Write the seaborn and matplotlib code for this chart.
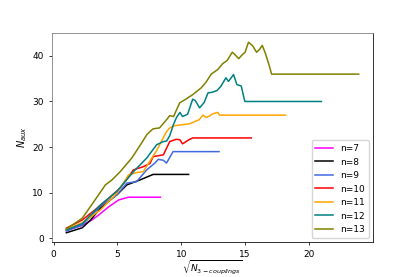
import numpy as np
import pandas as pd
import matplotlib
matplotlib.use("Agg")
import matplotlib.pyplot as plt
import seaborn as sns

# ---- data ----
labels = ["n=7", "n=8", "n=9", "n=10", "n=11", "n=12", "n=13"]
colors = ["#ff00ff", "#000000", "#4169e1", "#ff0000", "#ffa500", "#008080", "#808000"]

x7 = [1, 2.24, 3.0, 3.54, 4.32, 5.1, 5.74, 5.9, 8.37]
y7 = [1.7, 2.8, 4.0, 5.1, 6.9, 8.4, 8.9, 9.0, 9.0]

x8 = [1, 2.25, 2.9, 3.67, 4.45, 5.1, 5.74, 6.78, 7.8, 10.58]
y8 = [1.2, 2.3, 4.0, 6.6, 8.4, 9.9, 11.7, 12.8, 14.0, 14.0]

x9 = [1, 2.25, 3.67, 4.97, 5.74, 6.5, 7.3, 7.94, 8.2, 8.6, 8.85, 9.36, 12.96]
y9 = [1.6, 2.9, 7.0, 9.5, 12.1, 12.4, 15.0, 16.5, 17.3, 17.1, 16.5, 19.0, 19.0]

x10 = [1, 2.25, 3.41, 4.45, 5.22, 5.87, 6.26, 7.03, 7.55, 7.8, 8.6, 9.1, 9.6, 9.9,
       10.1, 10.6, 10.9, 15.49]
y10 = [2.2, 4.0, 6.6, 9.1, 11.0, 13.5, 15.0, 15.7, 16.4, 17.9, 18.3, 21.2, 21.7, 21.6,
       20.7, 21.6, 22.0, 22.0]

x11 = [1, 2.25, 3.67, 4.97, 5.87, 6.5, 7.03, 7.7, 8.07, 8.59, 8.85, 9.1, 9.5, 10.66,
       11.4, 11.7, 11.96, 12.2, 12.47, 12.86, 13.0, 18.17]
y11 = [2.0, 3.4, 6.2, 9.9, 13.9, 14.4, 14.6, 17.6, 19.2, 22.0, 23.4, 24.2, 24.7, 25.1,
       26.0, 27.0, 26.5, 26.8, 27.3, 27.6, 27.0, 27.0]

x12 = [1, 2.25, 3.67, 4.97, 6.26, 7.3, 8.07, 8.6, 8.85, 9.1, 9.4, 9.63, 9.9, 10.1,
       10.5, 10.9, 11.1, 11.44, 11.8, 12.1, 12.4, 12.8, 13.1, 13.5, 13.7, 14.1,
       14.36, 14.7, 14.98, 20.98]
y12 = [1.8, 3.2, 7.3, 10.3, 14.6, 17.6, 20.5, 21.2, 21.3, 22.5, 25.0, 26.5, 27.6, 26.7,
       27.2, 30.5, 30.2, 28.6, 29.8, 31.9, 32.0, 32.4, 33.3, 35.2, 34.4, 35.9,
       33.7, 33.4, 30.0, 30.0]

x13 = [1, 2.25, 3.15, 4.06, 4.58, 5.22, 6.13, 6.9, 7.3, 7.55, 7.8, 8.3, 8.85, 9.1,
       9.4, 9.88, 10.3, 10.9, 11.57, 11.96, 12.35, 12.86, 13.25, 13.6, 14.0, 14.2,
       14.5, 14.8, 15.0, 15.27, 15.6, 15.9, 16.1, 16.35, 16.6, 16.87, 17.08, 23.9]
y13 = [2.0, 4.4, 8.0, 11.7, 12.8, 14.6, 17.6, 20.9, 22.7, 23.4, 24.0, 24.2, 26.0, 26.9,
       26.7, 29.7, 30.4, 31.5, 33.0, 34.3, 36.0, 37.0, 38.3, 39.0, 40.8, 40.3,
       39.4, 40.3, 40.8, 43.0, 42.2, 40.8, 41.3, 42.3, 40.5, 38.1, 36.0, 36.0]

xs = [x7, x8, x9, x10, x11, x12, x13]
ys = [y7, y8, y9, y10, y11, y12, y13]

frames = []
for lab, xv, yv in zip(labels, xs, ys):
    frames.append(pd.DataFrame({"x": xv, "y": yv, "n": lab}))
df = pd.concat(frames, ignore_index=True)

# ---- figure ----
plt.rcParams["font.family"] = ["DejaVu Sans"]
plt.rcParams["mathtext.fontset"] = "dejavusans"
fig = plt.figure(figsize=(4.15, 2.77), dpi=100)
ax = fig.add_axes([0.1246, 0.1253, 0.7749, 0.7567])

sns.lineplot(data=df, x="x", y="y", hue="n", palette=dict(zip(labels, colors)),
             hue_order=labels, sort=False, estimator=None, linewidth=1.1, ax=ax)

ax.set_xticks([0, 5, 10, 15, 20])
ax.set_yticks([0, 10, 20, 30, 40])
ax.tick_params(labelsize=6.5, length=2.3, width=0.55)
ax.set_xlabel(r"$\sqrt{N_{3-couplings}}$", fontsize=6.5, labelpad=-0.5)
ax.set_ylabel(r"$N_{aux}$", fontsize=7, labelpad=2.5)

for side in ["left", "top"]:
    ax.spines[side].set_color("#808080")
for side in ["right", "bottom"]:
    ax.spines[side].set_color("#111111")
for s in ax.spines.values():
    s.set_linewidth(0.6)

handles, labs = ax.get_legend_handles_labels()
ax.legend(handles, labs, loc="lower right", fontsize=6.5, frameon=True,
          handlelength=2.0, borderaxespad=0.5)

fig.savefig("out.png", dpi=100)
